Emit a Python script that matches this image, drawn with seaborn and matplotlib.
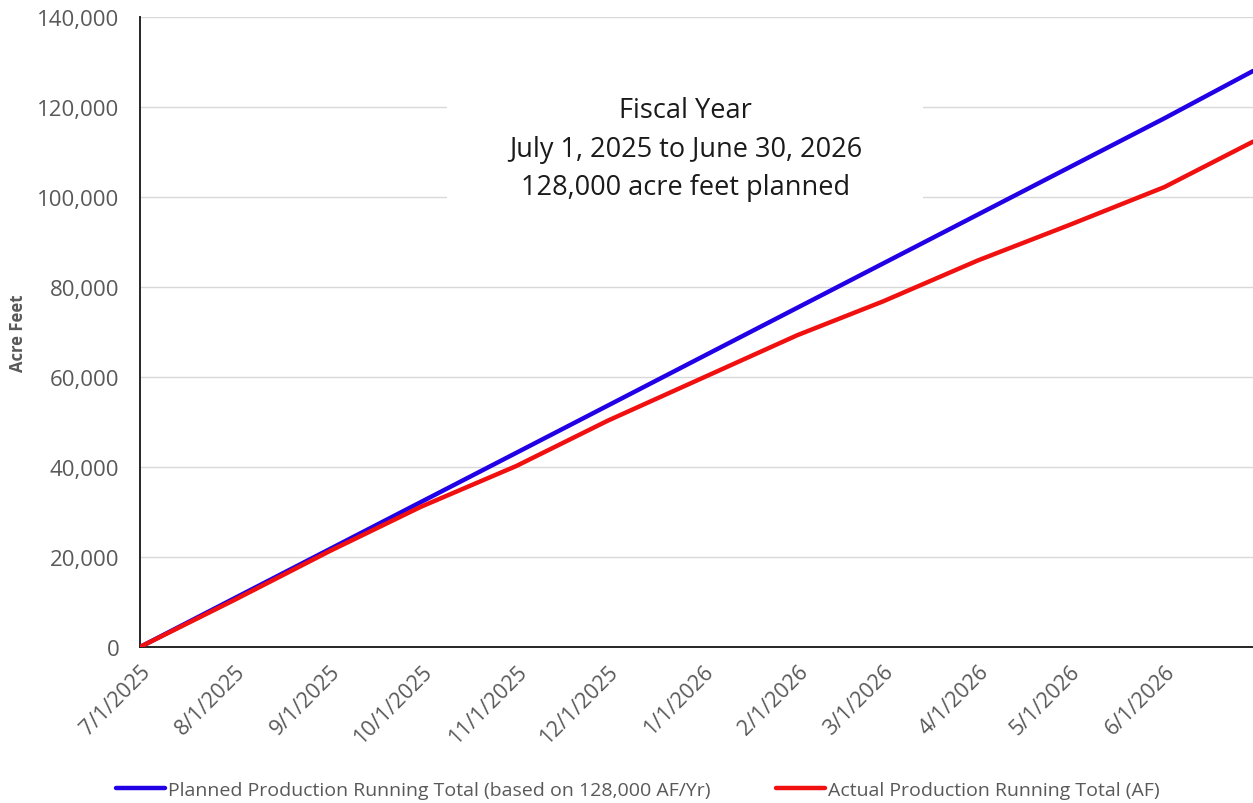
""" Fiscal year production running total chart. """

import matplotlib
matplotlib.use("Agg")
import matplotlib.pyplot as plt
import matplotlib.dates as mdates
from matplotlib.patches import Rectangle
from matplotlib.ticker import FuncFormatter
import pandas as pd
import seaborn as sns

# Data (month starts + fiscal year end)
dates = ["2025-07-01", "2025-08-01", "2025-09-01", "2025-10-01", "2025-11-01",
         "2025-12-01", "2026-01-01", "2026-02-01", "2026-03-01", "2026-04-01",
         "2026-05-01", "2026-06-01", "2026-06-30"]
planned = [0, 10870, 21740, 32260, 43130, 53650, 64530, 75400, 85220, 96090,
           106610, 117480, 128000]
actual = [0, 10500, 21300, 31200, 40200, 50300, 59800, 69300, 76800, 85900,
          93800, 102200, 112300]
tick_dates = ["2025-07-01", "2025-08-01", "2025-09-01", "2025-10-01", "2025-11-01",
              "2025-12-01", "2026-01-01", "2026-02-01", "2026-03-01", "2026-04-01",
              "2026-05-01", "2026-06-01"]
tick_labels = ["7/1/2025", "8/1/2025", "9/1/2025", "10/1/2025", "11/1/2025",
               "12/1/2025", "1/1/2026", "2/1/2026", "3/1/2026", "4/1/2026",
               "5/1/2026", "6/1/2026"]
planned_label = "Planned Production Running Total (based on 128,000 AF/Yr)"
actual_label = "Actual Production Running Total (AF)"
note = "Fiscal Year\nJuly 1, 2025 to June 30, 2026\n128,000 acre feet planned"


def main():
    sns.set_style("white")
    plt.rcParams["font.family"] = ["Open Sans", "DejaVu Sans"]

    df = pd.DataFrame({"date": pd.to_datetime(dates), "planned": planned, "actual": actual})

    fig = plt.figure(figsize=(12.53, 8.04), dpi=100)
    ax = fig.add_axes([0.1117, 0.194, 0.8883, 0.7836])

    sns.lineplot(data=df, x="date", y="planned", ax=ax, color="#2200e6",
                 linewidth=3.2, label=planned_label, zorder=3)
    sns.lineplot(data=df, x="date", y="actual", ax=ax, color="#f01010",
                 linewidth=3.2, label=actual_label, zorder=4)

    ax.set_xlim(pd.Timestamp("2025-07-01"), pd.Timestamp("2026-06-30"))
    ax.set_ylim(0, 140000)
    ax.set_yticks(range(0, 140001, 20000))
    ax.yaxis.set_major_formatter(FuncFormatter(lambda v, _: f"{v:,.0f}"))
    ax.set_xticks(mdates.date2num(pd.to_datetime(tick_dates)))
    ax.set_xticklabels(tick_labels, rotation=45, ha="right", rotation_mode="anchor")

    ax.grid(axis="y", color="#d9d9d9", linewidth=1)
    ax.set_axisbelow(True)
    for side in ["top", "right"]:
        ax.spines[side].set_visible(False)
    for side in ["left", "bottom"]:
        ax.spines[side].set_color("#262626")
        ax.spines[side].set_linewidth(1.4)
    ax.tick_params(axis="both", direction="in", length=6, width=1.2, color="#262626",
                   labelsize=16, labelcolor="#595959")
    ax.tick_params(axis="y", pad=15)
    ax.tick_params(axis="x", pad=10, labelsize=15.5)

    ax.set_xlabel("")
    ax.set_ylabel("Acre Feet", fontsize=12, fontweight="bold", color="#595959", labelpad=7)

    # White box behind the note, hiding the grid lines
    ax.add_patch(Rectangle((0.276, 0.703), 0.4275, 0.225, transform=ax.transAxes,
                           facecolor="white", edgecolor="none", zorder=2))
    ax.text(0.49, 0.791, note, transform=ax.transAxes, ha="center", va="center",
            fontsize=19.5, color="#1a1a1a", linespacing=1.5, zorder=5)

    handles, labels = ax.get_legend_handles_labels()
    ax.legend_.remove()
    fig.legend(handles, labels, loc="center", bbox_to_anchor=(0.509, 0.016), ncol=2,
               frameon=False, fontsize=14, labelcolor="#595959", handlelength=2.5,
               handletextpad=0.15, columnspacing=3.4)

    fig.savefig("out.png", dpi=100)


if __name__ == "__main__":
    main()
